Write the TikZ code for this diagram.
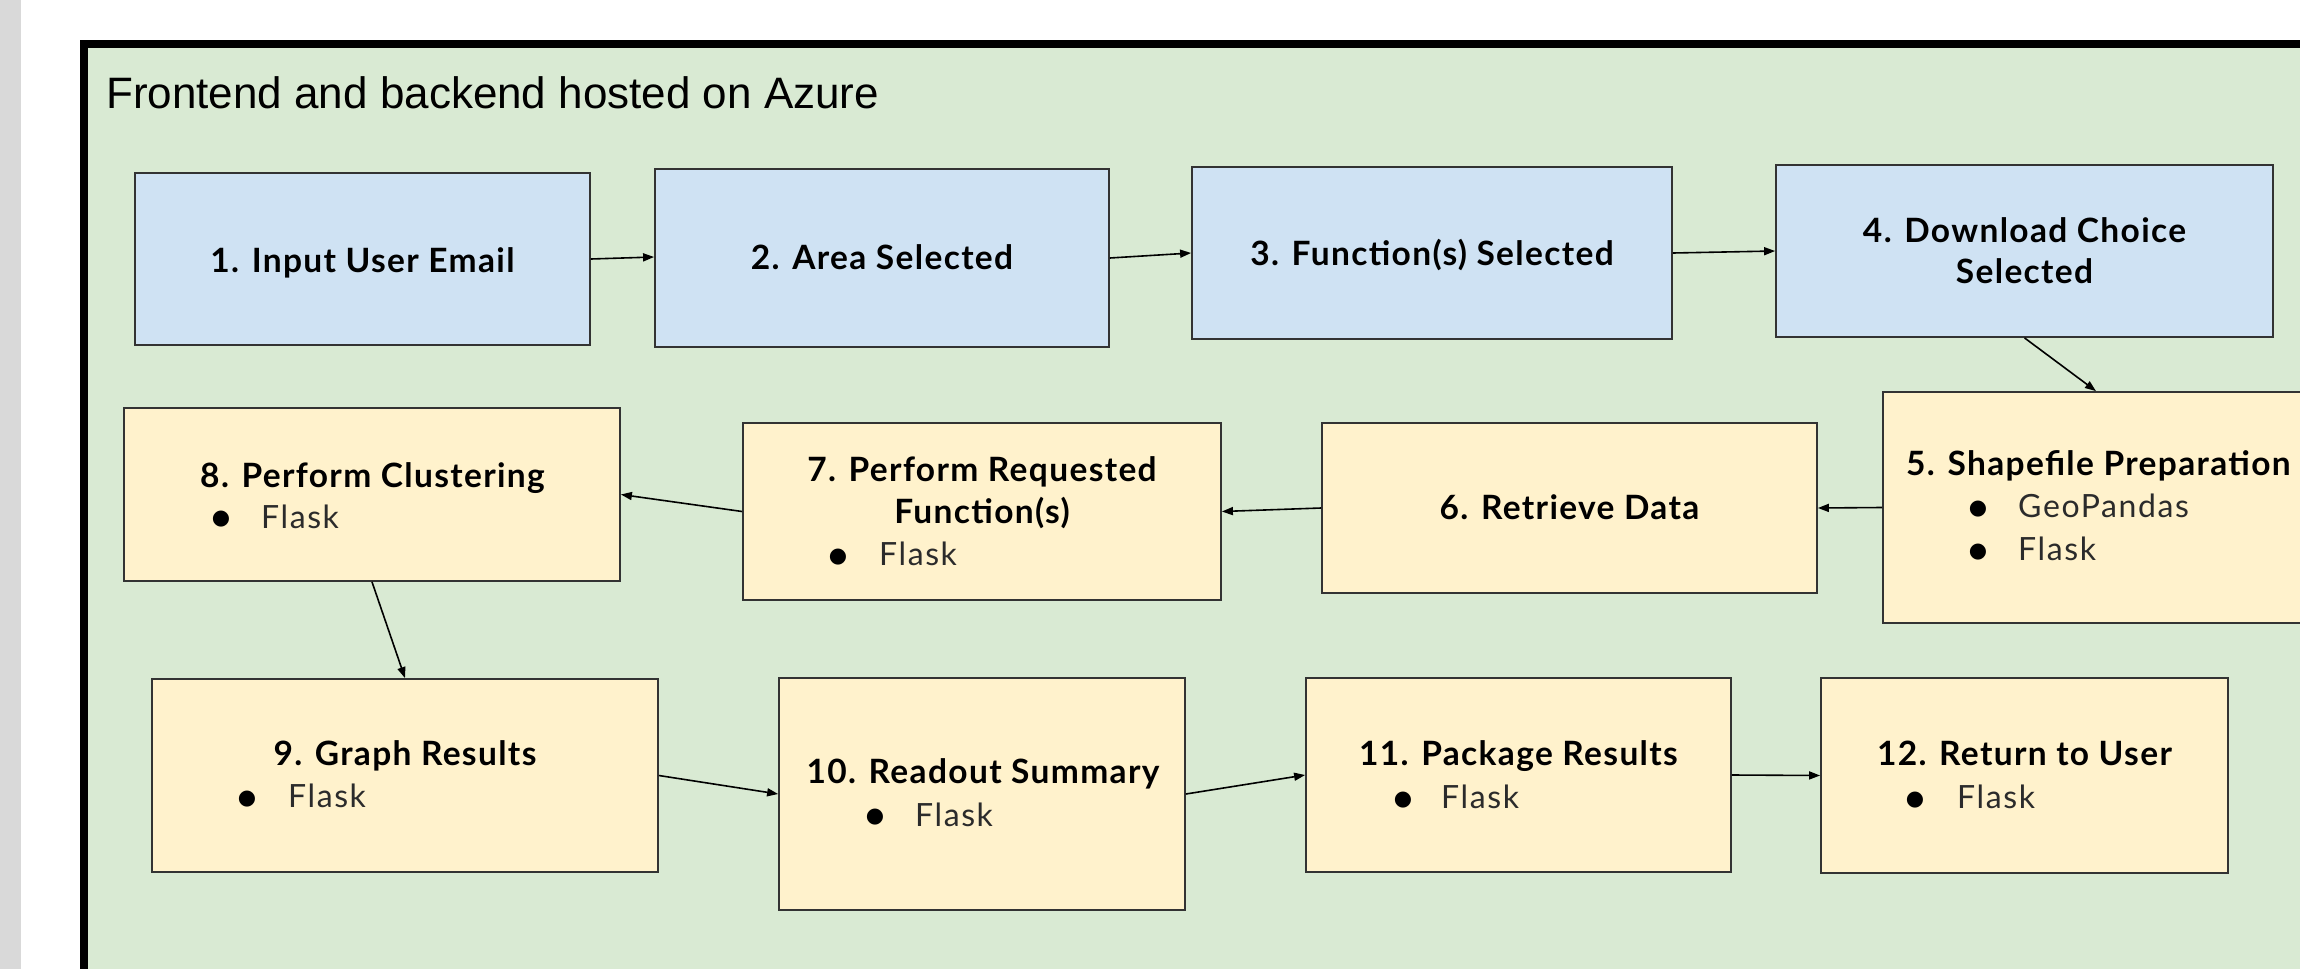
\documentclass[tikz,border=0pt]{standalone}
\usepackage{fontspec}
\setmainfont{Lato}
\newfontfamily\boxfont[LetterSpace=4.0]{Lato}
\newfontfamily\itemfont[LetterSpace=5.0]{Lato}
\newfontfamily\headfont{Liberation Sans}
\newfontfamily\dotfont{DejaVu Sans}
\usetikzlibrary{arrows.meta}
\definecolor{frameGreen}{HTML}{D9EAD3}
\definecolor{boxBlue}{HTML}{CFE2F3}
\definecolor{boxYellow}{HTML}{FFF2CC}
\definecolor{stripGray}{HTML}{D9D9D9}
\definecolor{edgeGray}{HTML}{333333}
\definecolor{itemGray}{HTML}{2B2B2B}
\begin{document}
\begin{tikzpicture}[x=1pt,y=-1pt,
  basebox/.style={draw=edgeGray, line width=1.8pt, inner sep=0pt},
  bluebox/.style={basebox, fill=boxBlue},
  yellowbox/.style={basebox, fill=boxYellow},
  ttl/.style={inner sep=0pt, anchor=base, font=\boxfont\fontsize{33.5}{40}\selectfont\bfseries, text=black},
  itm/.style={inner sep=0pt, anchor=base west, font=\itemfont\fontsize{32}{40}\selectfont, text=itemGray},
  bul/.style={inner sep=0pt, anchor=center, font=\dotfont\fontsize{21}{21}\selectfont, text=black},
  arr/.style={draw=black, line width=1.6pt, -{Triangle[length=11pt,width=8pt]}}
]
\useasboundingbox (0,0) rectangle (2300,969);
\clip (0,0) rectangle (2300,969);
\fill[white] (0,0) rectangle (2300,969);
\fill[stripGray] (0,0) rectangle (21,969);
\draw[line width=7.5pt, fill=frameGreen] (83.75,44) rectangle (2420,1100);
\node[inner sep=0pt, anchor=base west, font=\headfont\fontsize{44}{50}\selectfont] (title) at (106,108) {Frontend and backend hosted on Azure};

% boxes
\node[bluebox, minimum width=455pt, minimum height=172pt] (b1) at (362.5,259) {};
\node[bluebox, minimum width=454pt, minimum height=178pt] (b2) at (882,258) {};
\node[bluebox, minimum width=480pt, minimum height=172pt] (b3) at (1432,253) {};
\node[bluebox, minimum width=497pt, minimum height=172pt] (b4) at (2024.5,251) {};
\node[yellowbox, minimum width=426pt, minimum height=231pt] (b5) at (2096,507.5) {};
\node[yellowbox, minimum width=495pt, minimum height=170pt] (b6) at (1569.5,508) {};
\node[yellowbox, minimum width=478pt, minimum height=177pt] (b7) at (982,511.5) {};
\node[yellowbox, minimum width=496pt, minimum height=173pt] (b8) at (372,494.5) {};
\node[yellowbox, minimum width=506pt, minimum height=193pt] (b9) at (405,775.5) {};
\node[yellowbox, minimum width=406pt, minimum height=232pt] (b10) at (982,794) {};
\node[yellowbox, minimum width=425pt, minimum height=194pt] (b11) at (1518.5,775) {};
\node[yellowbox, minimum width=407pt, minimum height=195pt] (b12) at (2024.5,775.5) {};

% texts
\node[ttl] (t1) at (362.5,272) {1. Input User Email};
\node[ttl] (t2) at (882,269) {2. Area Selected};
\node[ttl] (t3) at (1432,265) {3. Function(s) Selected};
\node[ttl] (t4a) at (2024.5,242) {4. Download Choice};
\node[ttl] (t4b) at (2024.5,283) {Selected};
\node[ttl, anchor=base west] (t5) at (1906,475) {5. Shapefile Preparation};
\node[bul] (d5a) at (1978,509) {●};
\node[itm] (i5a) at (2018,517) {GeoPandas};
\node[bul] (d5b) at (1978,552) {●};
\node[itm] (i5b) at (2018,560) {Flask};
\node[ttl] (t6) at (1569.5,519) {6. Retrieve Data};
\node[ttl] (t7a) at (982,481) {7. Perform Requested};
\node[ttl] (t7b) at (982,523) {Function(s)};
\node[bul] (d7) at (838,557) {●};
\node[itm] (i7) at (879,565) {Flask};
\node[ttl] (t8) at (372.5,487) {8. Perform Clustering};
\node[bul] (d8) at (221,519) {●};
\node[itm] (i8) at (261,528) {Flask};
\node[ttl] (t9) at (405,765) {9. Graph Results};
\node[bul] (d9) at (247,799) {●};
\node[itm] (i9) at (288,807) {Flask};
\node[ttl] (t10) at (983,783) {10. Readout Summary};
\node[bul] (d10) at (875,817) {●};
\node[itm] (i10) at (915,826) {Flask};
\node[ttl] (t11) at (1518.5,765) {11. Package Results};
\node[bul] (d11) at (1403,800) {●};
\node[itm] (i11) at (1441,808) {Flask};
\node[ttl] (t12) at (2024.5,765) {12. Return to User};
\node[bul] (d12) at (1915,800) {●};
\node[itm] (i12) at (1957,808) {Flask};

% connectors
\draw[arr] (b1.east) -- ([yshift=1pt]b2.west);
\draw[arr] (b2.east) -- (b3.west);
\draw[arr] (b3.east) -- (b4.west);
\draw[arr] (b4.south) -- (b5.north);
\draw[arr] (b5.west) -- (b6.east);
\draw[arr] (b6.west) -- (b7.east);
\draw[arr] (b7.west) -- (b8.east);
\draw[arr] (b8.south) -- (b9.north);
\draw[arr] (b9.east) -- (b10.west);
\draw[arr] (b10.east) -- (b11.west);
\draw[arr] (b11.east) -- (b12.west);
\end{tikzpicture}
\end{document}
